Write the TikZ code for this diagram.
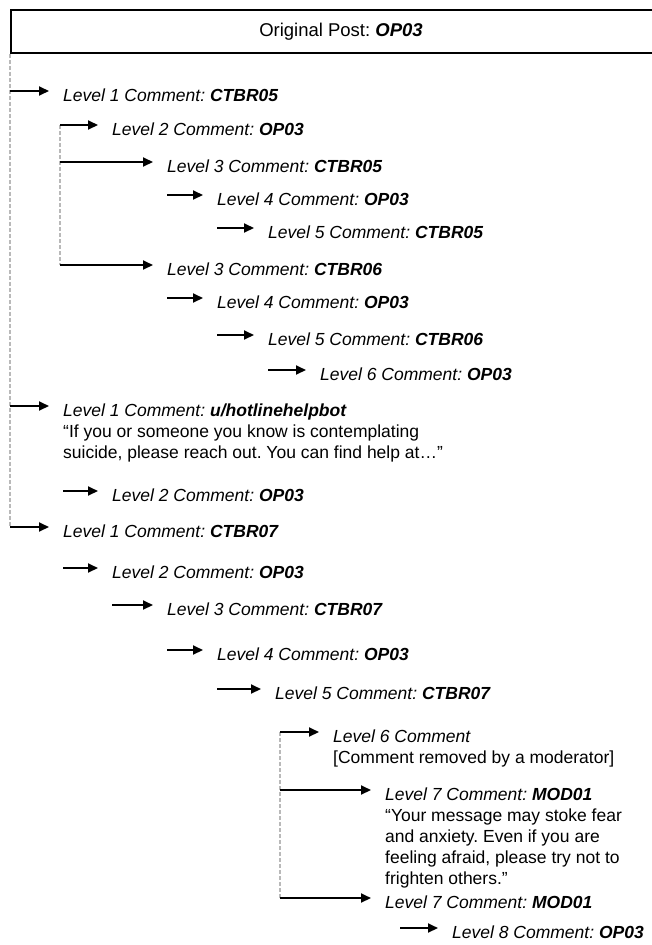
\documentclass[tikz,border=0pt]{standalone}
\usepackage{fontspec}
\setmainfont{Liberation Sans}
\usepackage{tikz}
\usetikzlibrary{arrows.meta,positioning}

\newcommand{\lvlhead}[2]{\textit{Level #1 Comment: \textbf{#2}}}

\begin{document}
\frenchspacing
\begin{tikzpicture}[
        x=1pt, y=-1pt,
        every node/.style={font=\fontsize{17.5}{21}\selectfont, inner sep=0pt},
        cmt/.style={anchor=base west, text height=20pt, text depth=0pt},
        quote/.style={anchor=base west, align=left},
        arr/.style={-{Triangle[length=10pt, width=9pt]}, line width=2pt, shorten >=14pt},
        branch/.style={draw=gray!55, line width=1.3pt, dash pattern=on 4pt off 2pt}
      ]
      \useasboundingbox (0,0) rectangle (651,945);
      \node[draw, line width=1.8pt, minimum width=660pt, minimum height=43pt,
            font=\fontsize{18.5}{22}\selectfont] (op) at (341,31.5) {Original Post: \textbf{\textit{OP03}}};
      \coordinate (b1) at (60,0);
      \coordinate (b2) at (280,0);
      \coordinate (s8) at (400,0);

      % thread of CTBR05
      \node[cmt] (a1) at (63,101) {\lvlhead{1}{CTBR05}};
      \node[cmt] (a2) at (112,135) {\lvlhead{2}{OP03}};
      \node[cmt] (a3) at (167,172) {\lvlhead{3}{CTBR05}};
      \node[cmt] (a4) at (217,205) {\lvlhead{4}{OP03}};
      \node[cmt] (a5) at (268,238) {\lvlhead{5}{CTBR05}};
      \node[cmt] (a3b) at (167,275) {\lvlhead{3}{CTBR06}};
      \node[cmt] (a4b) at (217,308) {\lvlhead{4}{OP03}};
      \node[cmt] (a5b) at (268,345) {\lvlhead{5}{CTBR06}};
      \node[cmt] (a6b) at (320,380) {\lvlhead{6}{OP03}};

      % bot reply
      \node[cmt] (h1) at (63,416) {\lvlhead{1}{u/hotlinehelpbot}};
      \node[quote] (h1q) at (63,458) {“If you or someone you know is contemplating\\suicide, please reach out. You can find help at…”};
      \node[cmt] (h2) at (112,501) {\lvlhead{2}{OP03}};

      % thread of CTBR07
      \node[cmt] (c1) at (63,537) {\lvlhead{1}{CTBR07}};
      \node[cmt] (c2) at (112,578) {\lvlhead{2}{OP03}};
      \node[cmt] (c3) at (167,615) {\lvlhead{3}{CTBR07}};
      \node[cmt] (c4) at (217,660) {\lvlhead{4}{OP03}};
      \node[cmt] (c5) at (275,699) {\lvlhead{5}{CTBR07}};
      \node[cmt] (c6) at (333,742) {\textit{Level 6 Comment}};
      \node[quote] (c6q) at (333,763) {[Comment removed by a moderator]};
      \node[cmt] (c7) at (385,800) {\lvlhead{7}{MOD01}};
      \node[quote] (c7q) at (385,884) {“Your message may stoke fear\\and anxiety. Even if you are\\feeling afraid, please try not to\\frighten others.”};
      \node[cmt] (c7b) at (385,908) {\lvlhead{7}{MOD01}};
      \node[cmt] (c8) at (452,938) {\lvlhead{8}{OP03}};

      \draw[branch] (op.south west) -- (op.south west |- c1.west);
      \draw[branch] (b1 |- a2.west) -- (b1 |- a3b.west);
      \draw[branch] (b2 |- c6.west) -- (b2 |- c7b.west);

      \draw[arr] (op.south west |- a1.west) -- (a1.west);
      \draw[arr] (b1 |- a2.west) -- (a2.west);
      \draw[arr] (b1 |- a3.west) -- (a3.west);
      \draw[arr] (a3.west |- a4.west) -- (a4.west);
      \draw[arr] (a4.west |- a5.west) -- (a5.west);
      \draw[arr] (b1 |- a3b.west) -- (a3b.west);
      \draw[arr] (a3b.west |- a4b.west) -- (a4b.west);
      \draw[arr] (a4b.west |- a5b.west) -- (a5b.west);
      \draw[arr] (a5b.west |- a6b.west) -- (a6b.west);
      \draw[arr] (op.south west |- h1.west) -- (h1.west);
      \draw[arr] (h1.west |- h2.west) -- (h2.west);
      \draw[arr] (op.south west |- c1.west) -- (c1.west);
      \draw[arr] (c1.west |- c2.west) -- (c2.west);
      \draw[arr] (c2.west |- c3.west) -- (c3.west);
      \draw[arr] (c3.west |- c4.west) -- (c4.west);
      \draw[arr] (c4.west |- c5.west) -- (c5.west);
      \draw[arr] (b2 |- c6.west) -- (c6.west);
      \draw[arr] (b2 |- c7.west) -- (c7.west);
      \draw[arr] (b2 |- c7b.west) -- (c7b.west);
      \draw[arr] (s8 |- c8.west) -- (c8.west);
    \end{tikzpicture}
\end{document}
